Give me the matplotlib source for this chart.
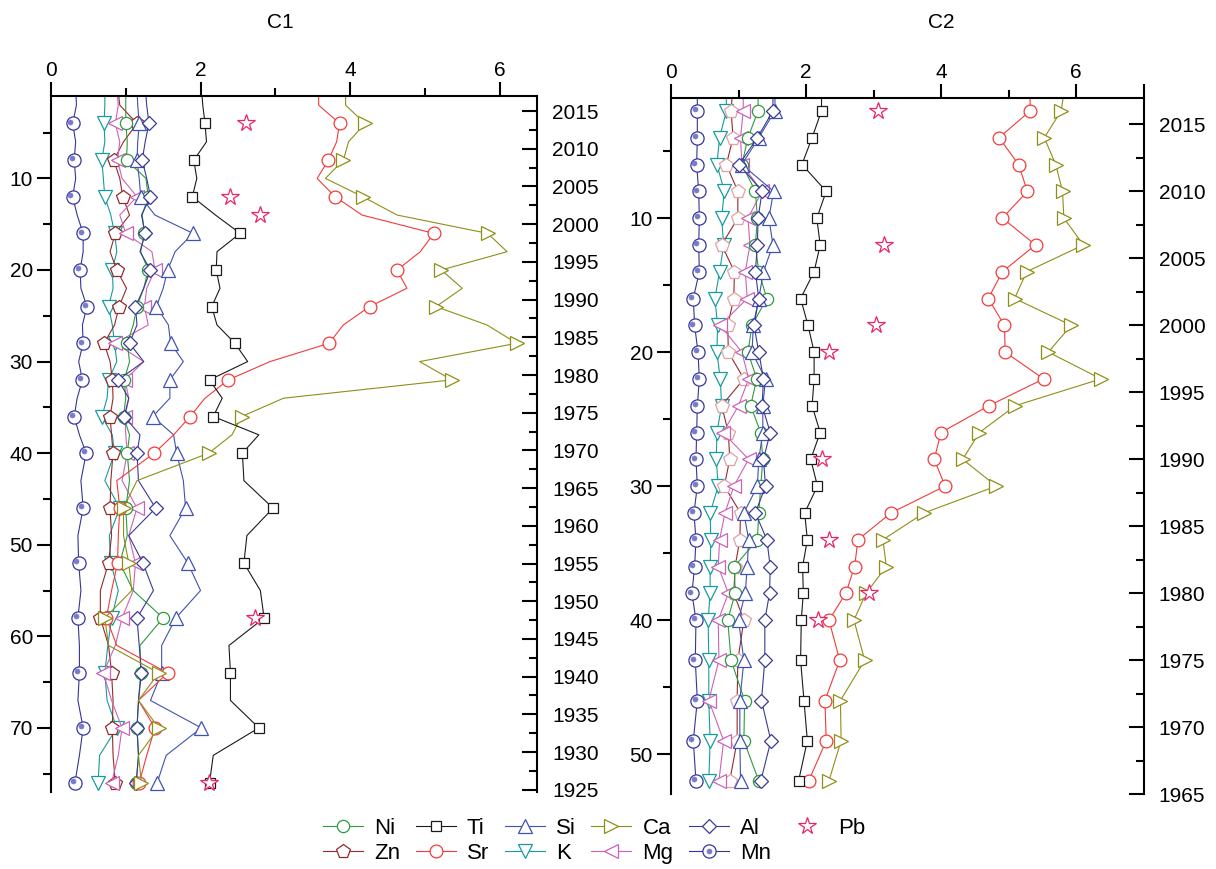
import numpy as np
import matplotlib
matplotlib.use("Agg")
import matplotlib.pyplot as plt
from matplotlib.ticker import MultipleLocator, FixedLocator
from matplotlib.transforms import offset_copy

plt.rcParams['font.family'] = ['Liberation Sans', 'DejaVu Sans']

# ---------------- Core C1 (depth in cm, concentration in %) ----------------
c1_depth = [0, 2, 4, 6, 8, 10, 12, 14, 16, 18, 20, 22, 24, 26, 28, 30, 32, 34,
            36, 38, 40, 43, 46, 49, 52, 55, 58, 61, 64, 67, 70, 73, 76]
c1_ni = [1.00, 1.00, 1.00, 1.02, 1.01, 1.27, 1.30, 1.22, 1.25, 1.20, 1.30, 1.24, 1.15,
         1.10, 1.02, 1.05, 0.98, 1.00, 0.97, 1.05, 1.02, 1.05, 1.00, 1.02, 0.92, 1.10,
         1.50, 1.19, 1.20, 1.17, 1.15, 1.17, 1.14]
c1_ti = [2.01, 2.03, 2.06, 2.08, 1.91, 1.95, 1.89, 2.20, 2.53, 2.22, 2.21, 2.26, 2.15,
         2.22, 2.46, 2.63, 2.12, 2.29, 2.17, 2.78, 2.56, 2.58, 2.97, 2.62, 2.58, 2.80,
         2.85, 2.38, 2.40, 2.40, 2.78, 2.17, 2.12]
c1_si = [1.15, 1.16, 1.18, 1.16, 1.15, 1.18, 1.20, 1.39, 1.90, 1.66, 1.56, 1.50, 1.41,
         1.57, 1.60, 1.77, 1.59, 1.59, 1.36, 1.64, 1.68, 1.77, 1.80, 1.59, 1.83, 2.00,
         1.67, 1.48, 1.48, 1.33, 2.01, 1.54, 1.42]
c1_ca = [3.94, 3.94, 4.20, 3.98, 3.91, 3.67, 4.17, 4.63, 5.84, 6.10, 5.22, 5.50, 5.15,
         5.83, 6.23, 4.93, 5.36, 3.11, 2.55, 2.42, 2.11, 1.15, 0.97, 0.97, 1.04, 1.08,
         0.72, 0.77, 1.44, 1.17, 1.44, 1.17, 1.21]
c1_al = [1.26, 1.28, 1.31, 1.26, 1.22, 1.28, 1.33, 1.21, 1.26, 1.19, 1.33, 1.24, 1.13,
         1.15, 1.05, 1.24, 0.90, 1.04, 0.98, 1.19, 1.15, 1.17, 1.40, 1.04, 1.23, 1.37,
         1.15, 1.18, 1.21, 1.17, 1.15, 1.17, 1.14]
c1_zn = [0.89, 0.92, 1.15, 0.97, 0.84, 0.92, 0.96, 1.05, 0.86, 0.79, 0.88, 1.01, 0.91,
         0.85, 0.71, 0.79, 0.82, 0.83, 0.79, 0.81, 0.83, 0.80, 0.79, 0.81, 0.77, 0.66,
         0.66, 0.77, 0.81, 0.83, 0.82, 0.83, 0.86]
c1_sr = [3.58, 3.58, 3.86, 3.82, 3.71, 3.56, 3.80, 4.16, 5.12, 4.94, 4.63, 4.76, 4.26,
         3.91, 3.72, 2.93, 2.37, 2.06, 1.86, 1.64, 1.38, 0.88, 0.92, 0.90, 0.89, 0.81,
         0.74, 0.88, 1.56, 1.17, 1.39, 1.28, 1.18]
c1_k = [0.72, 0.72, 0.71, 0.72, 0.68, 0.70, 0.72, 0.80, 0.85, 0.88, 0.82, 0.83, 0.77,
        0.82, 0.85, 0.88, 0.77, 0.75, 0.68, 0.82, 0.85, 0.72, 0.92, 0.78, 0.80, 0.90,
        0.81, 0.76, 0.72, 0.75, 0.88, 0.65, 0.63]
c1_mg = [0.88, 0.90, 0.86, 0.92, 0.89, 0.95, 1.15, 0.92, 1.00, 1.35, 1.39, 1.28, 1.25,
         1.30, 0.86, 1.24, 0.99, 1.04, 0.99, 1.00, 1.02, 0.95, 1.15, 1.04, 1.13, 1.10,
         0.95, 0.86, 0.70, 0.81, 0.95, 0.90, 0.81]
c1_mn = [0.33, 0.34, 0.29, 0.33, 0.31, 0.33, 0.29, 0.35, 0.43, 0.43, 0.39, 0.40, 0.48,
         0.42, 0.43, 0.37, 0.42, 0.35, 0.31, 0.38, 0.47, 0.40, 0.43, 0.36, 0.37, 0.40,
         0.36, 0.38, 0.38, 0.36, 0.43, 0.38, 0.32]
c1_pb_depth = [4, 12, 14, 58, 76]
c1_pb = [2.61, 2.40, 2.79, 2.73, 2.11]

# ---------------- Core C2 ----------------
c2_depth = [0, 2, 4, 6, 8, 10, 12, 14, 16, 18, 20, 22, 24, 26, 28, 30, 32, 34, 36,
            38, 40, 43, 46, 49, 52]
c2_ni = [1.29, 1.29, 1.14, 1.05, 1.25, 1.28, 1.25, 1.30, 1.42, 1.20, 1.14, 1.27, 1.18,
         1.33, 1.36, 1.33, 1.30, 1.28, 0.94, 0.95, 0.84, 0.89, 1.09, 1.08, 1.30]
c2_ti = [2.23, 2.23, 2.09, 1.94, 2.30, 2.16, 2.21, 2.12, 1.92, 2.03, 2.12, 2.12, 2.09,
         2.21, 2.07, 2.17, 1.98, 2.02, 1.95, 1.96, 1.93, 1.92, 1.97, 2.02, 1.89]
c2_si = [1.54, 1.54, 1.30, 1.05, 1.52, 1.45, 1.51, 1.37, 1.30, 1.22, 1.20, 1.40, 1.36,
         1.36, 1.30, 1.28, 1.08, 1.15, 1.13, 1.10, 1.00, 1.08, 1.02, 1.02, 1.03]
c2_ca = [5.84, 5.78, 5.53, 5.70, 5.80, 5.82, 6.11, 5.27, 5.09, 5.93, 5.59, 6.37, 5.10,
         4.57, 4.32, 4.82, 3.75, 3.14, 3.19, 2.89, 2.71, 2.87, 2.51, 2.52, 2.34]
c2_al = [1.51, 1.51, 1.28, 1.01, 1.35, 1.29, 1.28, 1.25, 1.30, 1.23, 1.30, 1.37, 1.35,
         1.47, 1.37, 1.40, 1.25, 1.42, 1.47, 1.46, 1.39, 1.39, 1.34, 1.48, 1.33]
c2_zn = [0.92, 0.89, 0.92, 0.82, 0.99, 0.99, 0.75, 0.94, 0.93, 0.84, 0.85, 1.08, 0.75,
         0.85, 0.87, 0.79, 1.03, 1.02, 0.95, 0.93, 1.08, 0.99, 0.98, 0.98, 0.87]
c2_sr = [5.32, 5.32, 4.86, 5.15, 5.28, 4.91, 5.40, 4.91, 4.70, 4.94, 4.95, 5.52, 4.71,
         4.00, 3.90, 4.06, 3.26, 2.77, 2.72, 2.59, 2.34, 2.50, 2.28, 2.30, 2.04]
c2_k = [0.82, 0.82, 0.72, 0.68, 0.79, 0.75, 0.78, 0.72, 0.65, 0.69, 0.68, 0.73, 0.75,
        0.68, 0.67, 0.70, 0.58, 0.59, 0.58, 0.58, 0.55, 0.56, 0.56, 0.58, 0.56]
c2_mg = [1.07, 1.07, 1.03, 1.05, 1.35, 1.14, 1.17, 1.10, 1.13, 0.73, 1.05, 1.15, 1.00,
         0.77, 1.15, 0.93, 0.80, 0.72, 0.70, 0.85, 0.70, 0.71, 0.56, 0.78, 0.71]
c2_mn = [0.39, 0.39, 0.39, 0.38, 0.41, 0.42, 0.41, 0.42, 0.33, 0.35, 0.40, 0.42, 0.39,
         0.38, 0.37, 0.39, 0.34, 0.37, 0.35, 0.31, 0.37, 0.36, 0.39, 0.33, 0.37]
c2_pb_depth = [2, 12, 18, 20, 28, 34, 38, 40]
c2_pb = [3.06, 3.15, 3.04, 2.34, 2.24, 2.34, 2.94, 2.18]

# ---------------- styles ----------------
STYLE = {
    'Mn': dict(color='#35359a', marker='o', ms=9.5),
    'K':  dict(color='#169c9c', marker='v', ms=9.5),
    'Zn': dict(color='#962a2a', marker='p', ms=10),
    'Mg': dict(color='#cc62b8', marker='<', ms=9.5),
    'Ni': dict(color='#2f9a3f', marker='o', ms=8.8),
    'Si': dict(color='#3f52b0', marker='^', ms=9.5),
    'Al': dict(color='#3a3a96', marker='D', ms=6.8),
    'Sr': dict(color='#f23a3a', marker='o', ms=9.2),
    'Ca': dict(color='#8f8f18', marker='>', ms=9.5),
    'Ti': dict(color='#1a1a1a', marker='s', ms=7.5),
}
PB_COLOR = '#ea2468'
MN_DOT = '#7a7acc'
DRAW_ORDER = ['Mn', 'K', 'Zn', 'Mg', 'Ni', 'Si', 'Al', 'Sr', 'Ca', 'Ti']

c1_series = dict(Ni=c1_ni, Ti=c1_ti, Si=c1_si, Ca=c1_ca, Al=c1_al, Zn=c1_zn,
                 Sr=c1_sr, K=c1_k, Mg=c1_mg, Mn=c1_mn)
c2_series = dict(Ni=c2_ni, Ti=c2_ti, Si=c2_si, Ca=c2_ca, Al=c2_al, Zn=c2_zn,
                 Sr=c2_sr, K=c2_k, Mg=c2_mg, Mn=c2_mn)

fig = plt.figure(figsize=(12.16, 8.69), dpi=100)

ax1 = fig.add_axes([0.04194, 0.08861, 0.39967, 0.80092])
ax2 = fig.add_axes([0.55181, 0.08596, 0.38857, 0.80184])


def draw_core(ax, depth, series, pb_depth, pb_vals, mark, zn_edge=None):
    handles = {}
    for name in DRAW_ORDER:
        st = STYLE[name]
        mec = st['color']
        if name == 'Zn' and zn_edge is not None:
            mec = zn_edge
        ln, = ax.plot(series[name], depth, color=st['color'], lw=0.8,
                      marker=st['marker'], ms=st['ms'], mfc='white', mec=mec,
                      mew=0.9, markevery=mark, clip_on=True)
        handles[name] = ln
        if name == 'Mn':
            dot_tr = offset_copy(ax.transData, fig=fig, x=-1.6, y=1.2, units='points')
            dt, = ax.plot(np.asarray(series[name])[mark], np.asarray(depth)[mark],
                          ls='none', marker='o', ms=3.6, mfc=MN_DOT, mec=MN_DOT,
                          mew=0.5, transform=dot_tr)
            handles['Mn_dot'] = dt
    pb, = ax.plot(pb_vals, pb_depth, ls='none', marker='*', ms=13, mfc='white',
                  mec=PB_COLOR, mew=0.9)
    handles['Pb'] = pb
    return handles


def style_axes(ax, xlim, xmajor, xminor, depth_lim, dmajor, year_lim, year_major):
    ax.set_xlim(*xlim)
    ax.set_ylim(depth_lim[1], depth_lim[0])
    ax.xaxis.set_major_locator(FixedLocator(xmajor))
    ax.set_xticklabels([('%d' % v) if v % 2 == 0 else '' for v in xmajor])
    ax.xaxis.set_minor_locator(FixedLocator(xminor))
    ax.yaxis.set_major_locator(FixedLocator(dmajor))
    ax.yaxis.set_minor_locator(MultipleLocator(5))
    ax.tick_params(axis='x', which='major', direction='out', length=10, width=1.5,
                   labelsize=15, pad=1.5, top=True, bottom=False,
                   labeltop=True, labelbottom=False)
    ax.tick_params(axis='x', which='minor', direction='out', length=5.5, width=1.5,
                   top=True, bottom=False)
    ax.tick_params(axis='y', which='major', direction='out', length=10, width=1.5,
                   labelsize=15, pad=3, left=True, right=False)
    ax.tick_params(axis='y', which='minor', direction='out', length=5.5, width=1.5,
                   left=True, right=False)
    ax.spines['bottom'].set_visible(False)
    ax.spines['right'].set_visible(False)
    for s in ('top', 'left'):
        ax.spines[s].set_linewidth(1.5)

    tw = ax.twinx()
    tw.set_ylim(year_lim[1], year_lim[0])
    tw.yaxis.set_major_locator(FixedLocator(year_major))
    tw.yaxis.set_minor_locator(MultipleLocator(2.5))
    tw.tick_params(axis='y', which='major', direction='in', length=11, width=1.5,
                   labelsize=15, pad=11, right=True, left=False)
    tw.tick_params(axis='y', which='minor', direction='in', length=6, width=1.5,
                   right=True, left=False)
    for s in ('top', 'bottom', 'left'):
        tw.spines[s].set_visible(False)
    tw.spines['right'].set_linewidth(1.5)
    return tw


h1 = draw_core(ax1, c1_depth, c1_series, c1_pb_depth, c1_pb, slice(2, None, 2))
h2 = draw_core(ax2, c2_depth, c2_series, c2_pb_depth, c2_pb, slice(1, None),
               zn_edge='#e0a2a2')

style_axes(ax1, (0, 6.5), [0, 2, 4, 6], [1, 3, 5], (1, 77), np.arange(10, 71, 10),
           (2017, 1924.7), np.arange(1925, 2016, 5))
style_axes(ax2, (0, 7), [0, 2, 4, 6, 7], [1, 3, 5], (1, 53), np.arange(10, 51, 10),
           (2017, 1965), np.arange(1965, 2016, 5))

fig.text(280 / 1216, 1 - 22 / 869, 'C1', ha='center', va='center', fontsize=15)
fig.text(941 / 1216, 1 - 22 / 869, 'C2', ha='center', va='center', fontsize=15)

legend_order = ['Ni', 'Zn', 'Ti', 'Sr', 'Si', 'K', 'Ca', 'Mg', 'Al', 'Mn', 'Pb']
leg_handles = []
for name in legend_order:
    if name == 'Mn':
        leg_handles.append((h1['Mn'], h1['Mn_dot']))
    else:
        leg_handles.append(h1[name])
fig.legend(leg_handles, legend_order, ncol=6, loc='center',
           bbox_to_anchor=(594 / 1216, 1 - 841 / 869), frameon=False, fontsize=16,
           handlelength=1.8, handletextpad=0.5, columnspacing=0.7, labelspacing=0.2,
           borderpad=0.1)

fig.savefig('out.png', dpi=100)
